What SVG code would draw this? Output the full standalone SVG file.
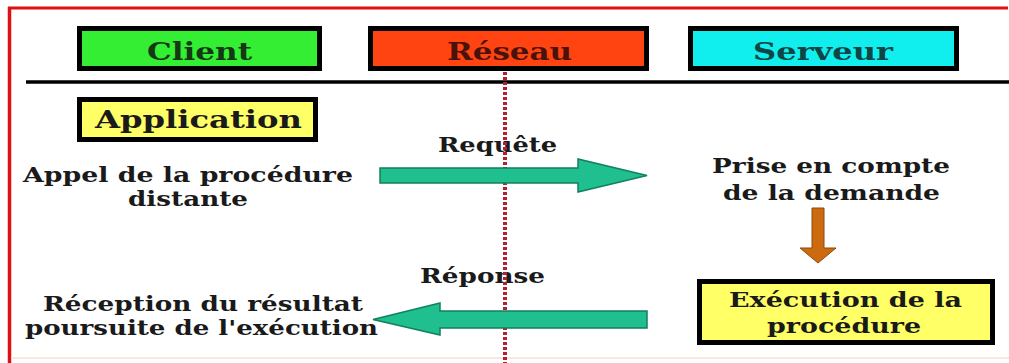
<svg xmlns="http://www.w3.org/2000/svg" width="1009" height="363" viewBox="0 0 1009 363">
<style>
.t{font-family:'DejaVu Serif','Liberation Serif',serif;font-weight:700;font-size:21px;fill:#1a1a1a}
.h{font-size:24px}
.box{stroke:#000;stroke-width:5}
.garrow{fill:#1fbf8f;stroke:#12805e;stroke-width:1.5}
.oarrow{fill:#cc6a10;stroke:#8a4a10;stroke-width:1}
</style>
<rect x="0" y="0" width="1009" height="363" fill="#ffffff"/>
<g id="frame">
<line x1="8" y1="8" x2="1008" y2="8" stroke="#e01010" stroke-width="3"/>
<line x1="9.5" y1="7" x2="9.5" y2="363" stroke="#e01010" stroke-width="3.5"/>
<line x1="11" y1="358" x2="1009" y2="358" stroke="#fbe8dc" stroke-width="2"/>
<line x1="26" y1="82" x2="1009" y2="82" stroke="#000" stroke-width="3.5"/>
</g>
<g id="client">
<rect class="box" x="79.5" y="28.5" width="240" height="40" fill="#33ee33"/>
<text class="t h" x="147" y="60" textLength="105" lengthAdjust="spacingAndGlyphs" style="fill:#143814">Client</text>
</g>
<g id="reseau">
<rect class="box" x="370.5" y="28.5" width="276" height="40" fill="#ff4411"/>
<text class="t h" x="447" y="60" textLength="125" lengthAdjust="spacingAndGlyphs" style="fill:#4a120a">Réseau</text>
</g>
<g id="serveur">
<rect class="box" x="690.5" y="28.5" width="266" height="40" fill="#11eeee"/>
<text class="t h" x="753" y="60" textLength="140" lengthAdjust="spacingAndGlyphs" style="fill:#0e4646">Serveur</text>
</g>
<g id="application">
<rect class="box" x="79.5" y="99.5" width="236" height="40" fill="#ffff66"/>
<text class="t h" x="95" y="128" textLength="207" lengthAdjust="spacingAndGlyphs">Application</text>
</g>
<g id="appel">
<text class="t" x="23" y="182" textLength="330" lengthAdjust="spacingAndGlyphs">Appel de la procédure</text>
<text class="t" x="128" y="206" textLength="120" lengthAdjust="spacingAndGlyphs">distante</text>
</g>
<g id="prise">
<text class="t" x="712" y="173" textLength="238" lengthAdjust="spacingAndGlyphs">Prise en compte</text>
<text class="t" x="723" y="200" textLength="217" lengthAdjust="spacingAndGlyphs">de la demande</text>
</g>
<g id="execution">
<rect class="box" x="699.5" y="281.5" width="293" height="61" fill="#ffff66"/>
<text class="t" x="729" y="307" textLength="233" lengthAdjust="spacingAndGlyphs">Exécution de la</text>
<text class="t" x="767" y="333" textLength="154" lengthAdjust="spacingAndGlyphs">procédure</text>
</g>
<g id="reception">
<text class="t" x="43" y="311" textLength="320" lengthAdjust="spacingAndGlyphs">Réception du résultat</text>
<text class="t" x="25" y="335" textLength="353" lengthAdjust="spacingAndGlyphs">poursuite de l'exécution</text>
</g>
<g id="labels">
<text class="t" x="438" y="152" textLength="119" lengthAdjust="spacingAndGlyphs">Requête</text>
<text class="t" x="420" y="283" textLength="125" lengthAdjust="spacingAndGlyphs">Réponse</text>
</g>
<g id="connectors">
<line x1="505" y1="72" x2="505" y2="363" stroke="#b5202e" stroke-width="4" stroke-dasharray="3 2"/>
<polygon class="garrow" points="380,168 578,168 578,159 647,175.5 578,192 578,183 380,183"/>
<polygon class="garrow" points="647,311 440,311 440,303 373,319.5 440,335 440,328 647,328"/>
<polygon class="oarrow" points="812,208 824,208 824,248 836,248 818,263 800,248 812,248"/>
</g>
</svg>
